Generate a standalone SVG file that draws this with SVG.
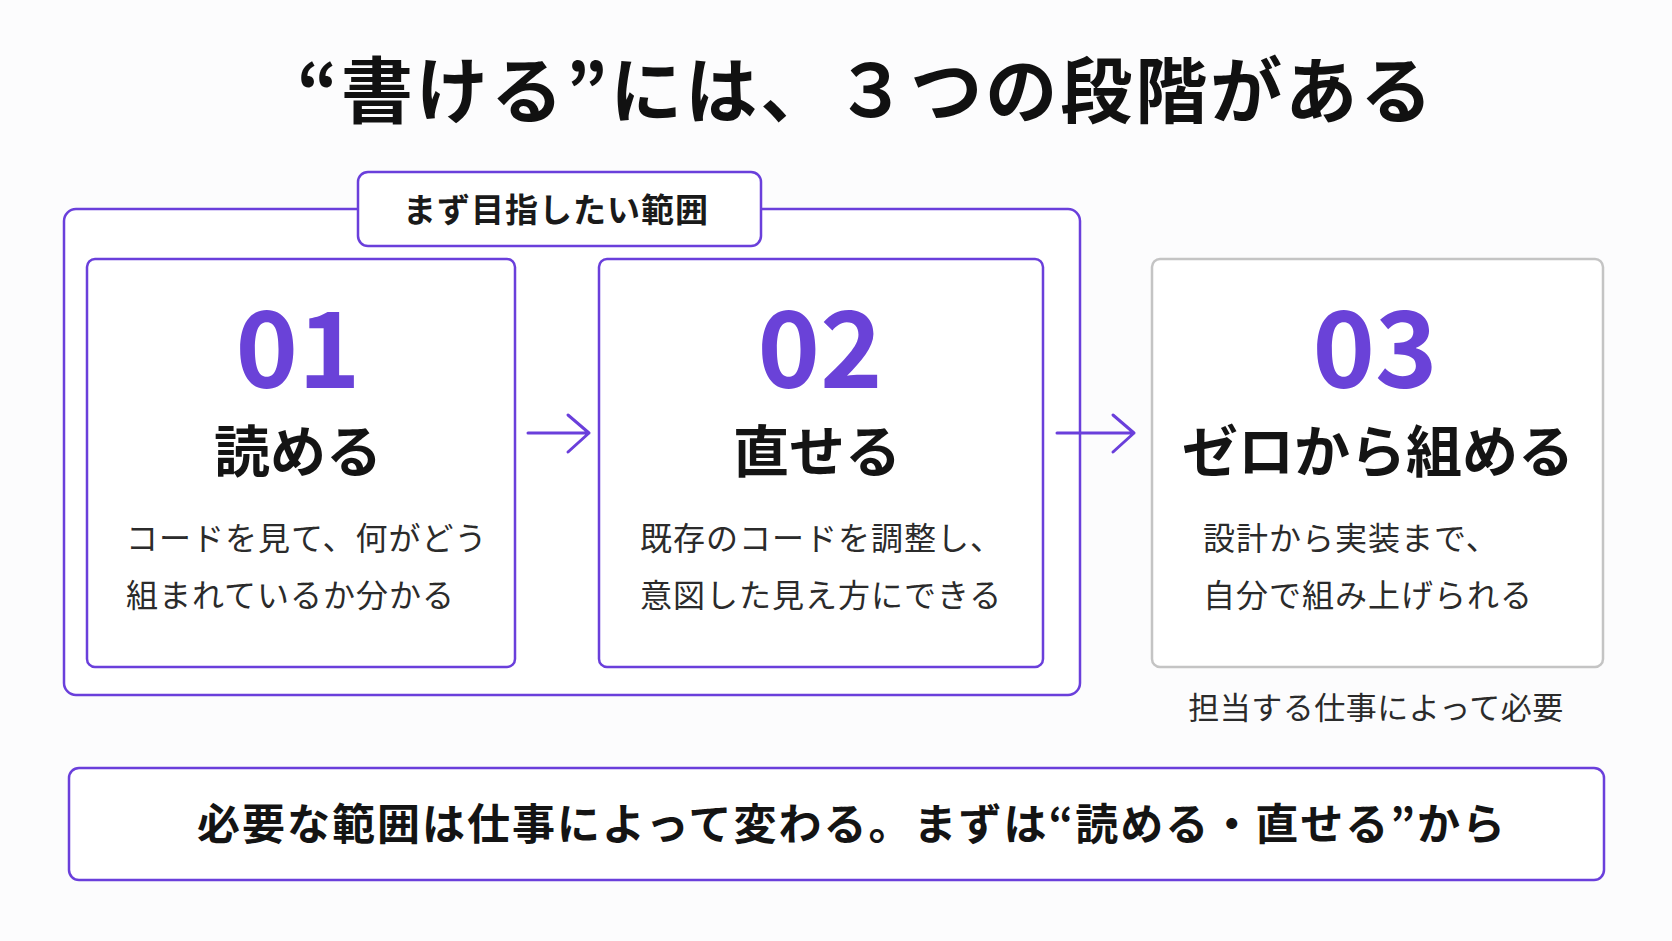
<svg xmlns="http://www.w3.org/2000/svg" width="1672" height="941" viewBox="0 0 1672 941">
<defs>
<style>
.jp{font-family:"Noto Sans CJK JP","Noto Sans",sans-serif;}
.title{font-size:72px;font-weight:700;fill:#111;letter-spacing:3px;}
.tag{font-size:33px;font-weight:700;fill:#1a1a1a;letter-spacing:1px;}
.num{font-size:106px;font-weight:700;fill:#6A42D8;}
.head{font-size:56px;font-weight:700;fill:#141414;}
.desc{font-size:32px;font-weight:400;fill:#2b2b2b;letter-spacing:1px;}
.note{font-size:31px;font-weight:400;fill:#2b2b2b;letter-spacing:0.5px;}
.bottom{font-size:43px;font-weight:700;fill:#141414;letter-spacing:2px;}
.pbox{fill:#ffffff;stroke:#6A3FDB;stroke-width:2.5;}
.gbox{fill:#ffffff;stroke:#C4C4C4;stroke-width:2.5;}
.arrow{fill:none;stroke:#6A3FDB;stroke-width:3;stroke-linecap:round;stroke-linejoin:round;}
</style>
</defs>
<rect x="0" y="0" width="1672" height="941" fill="#FCFCFD"/>
<text id="title" class="jp title" x="866" y="117" text-anchor="middle">“書ける”には、３つの段階がある</text>

<g id="scope">
<rect class="pbox" x="64" y="209" width="1016" height="486" rx="12"/>
</g>
<g id="scope-tag">
<rect class="pbox" x="358" y="172" width="403" height="74" rx="10"/>
<text class="jp tag" x="556" y="222" text-anchor="middle">まず目指したい範囲</text>
</g>

<g id="card1">
<rect class="pbox" x="87" y="259" width="428" height="408" rx="8"/>
<text class="jp num" x="298" y="388" text-anchor="middle">01</text>
<text class="jp head" x="298" y="472" text-anchor="middle">読める</text>
<text class="jp desc" x="126" y="550">コードを見て、何がどう</text>
<text class="jp desc" x="126" y="607">組まれているか分かる</text>
</g>

<g id="card2">
<rect class="pbox" x="599" y="259" width="444" height="408" rx="8"/>
<text class="jp num" x="820" y="388" text-anchor="middle">02</text>
<text class="jp head" x="817" y="472" text-anchor="middle">直せる</text>
<text class="jp desc" x="640" y="550">既存のコードを調整し、</text>
<text class="jp desc" x="640" y="607">意図した見え方にできる</text>
</g>

<g id="card3">
<rect class="gbox" x="1152" y="259" width="451" height="408" rx="8"/>
<text class="jp num" x="1375" y="388" text-anchor="middle">03</text>
<text class="jp head" x="1378" y="472" text-anchor="middle">ゼロから組める</text>
<text class="jp desc" x="1203" y="550">設計から実装まで、</text>
<text class="jp desc" x="1203" y="607">自分で組み上げられる</text>
</g>

<g id="note">
<text class="jp note" x="1376" y="719" text-anchor="middle">担当する仕事によって必要</text>
</g>

<g id="connectors">
<path class="arrow" d="M528 433 H589 M568 415 L589 433 L568 452"/>
<path class="arrow" d="M1057 433 H1134 M1113 415 L1134 433 L1113 452"/>
</g>

<g id="summary">
<rect class="pbox" x="69" y="768" width="1535" height="112" rx="10"/>
<text class="jp bottom" x="852" y="840" text-anchor="middle">必要な範囲は仕事によって変わる。まずは“読める・直せる”から</text>
</g>
</svg>
